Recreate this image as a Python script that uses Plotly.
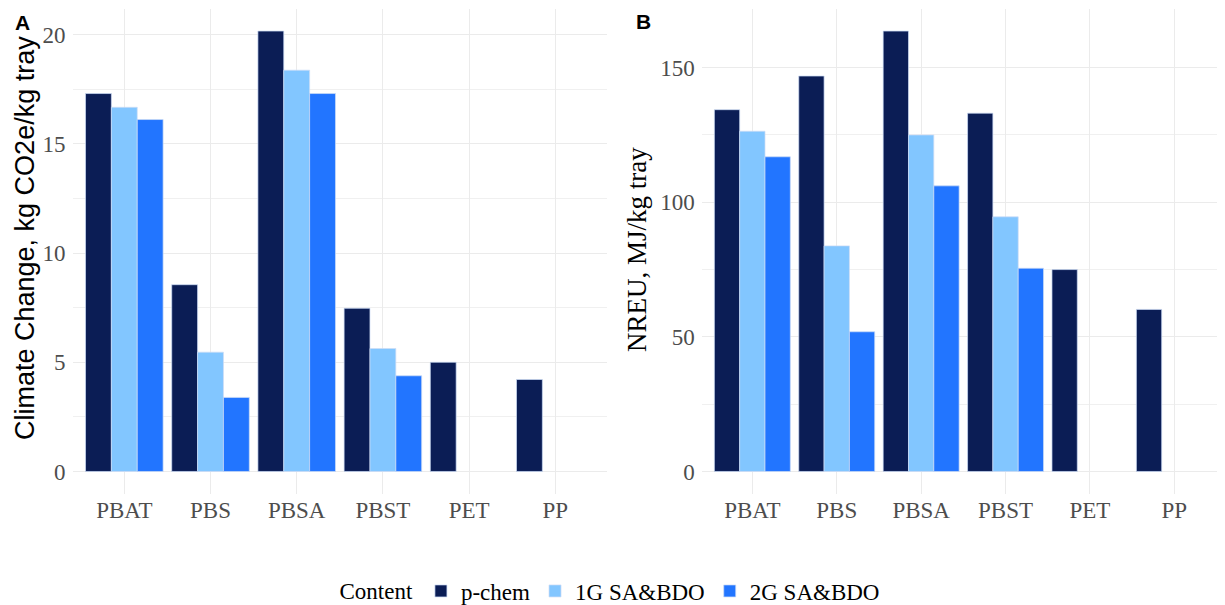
import plotly.graph_objects as go

categories = ["PBAT", "PBS", "PBSA", "PBST", "PET", "PP"]
series_names = ["p-chem", "1G SA&BDO", "2G SA&BDO"]
colors = ["#0b1d55", "#82c6ff", "#2275ff"]

cc_pchem = [17.30, 8.55, 20.16, 7.47, 5.00, 4.21]
cc_1g = [16.67, 5.46, 18.37, 5.63, None, None]
cc_2g = [16.11, 3.39, 17.30, 4.38, None, None]

nreu_pchem = [134.4, 146.9, 163.6, 133.1, 75.0, 60.2]
nreu_1g = [126.4, 83.8, 125.0, 94.6, None, None]
nreu_2g = [116.9, 51.9, 106.1, 75.5, None, None]

# page offset (body margin of the html page)
OFF = 8
W, H = 1225 - OFF, 605 - OFF


def px(xp):
    return (xp - OFF) / W


def py(yp):
    return 1 - (yp - OFF) / H


fig = go.Figure()
outline = dict(color="rgba(205,220,245,0.9)", width=0.8)
for name, col, vals in zip(series_names, colors, [cc_pchem, cc_1g, cc_2g]):
    fig.add_trace(go.Bar(x=categories, y=vals, name=name, marker_color=col, marker_line=outline,
                         legendgroup=name, showlegend=True, xaxis="x", yaxis="y"))
for name, col, vals in zip(series_names, colors, [nreu_pchem, nreu_1g, nreu_2g]):
    fig.add_trace(go.Bar(x=categories, y=vals, name=name, marker_color=col, marker_line=outline,
                         legendgroup=name, showlegend=False, xaxis="x2", yaxis="y2"))

serif = "Liberation Serif, Times New Roman, serif"
sans = "Liberation Sans, Arial, sans-serif"
tickfont = dict(family=serif, size=23, color="#4d4d4d")
grid = "#ebebeb"
minor_grid = "#f0f0f0"

ydom = [py(493.5), py(9)]
common_x = dict(type="category", range=[-0.6, 5.6], showgrid=True, gridcolor=grid, gridwidth=1,
                zeroline=False, showline=False, ticks="", ticklen=0, tickfont=tickfont,
                ticklabelstandoff=0)
common_y = dict(showgrid=True, gridcolor=grid, gridwidth=1, zeroline=False, ticks="", tick0=0,
                tickfont=tickfont, ticklabelstandoff=6)

fig.update_layout(
    width=W, height=H,
    margin=dict(l=0, r=0, t=0, b=0, autoexpand=False),
    paper_bgcolor="white", plot_bgcolor="white",
    barmode="group", bargap=0.1, bargroupgap=0,
    xaxis=dict(domain=[px(72.6), px(607)], anchor="y", **common_x),
    xaxis2=dict(domain=[px(701.7), 1.0], anchor="y2", **common_x),
    yaxis=dict(domain=ydom, anchor="x", range=[-1.008, 21.17], dtick=5,
               minor=dict(dtick=2.5, tick0=0, showgrid=True, gridcolor=minor_grid, gridwidth=0.6),
               **common_y),
    yaxis2=dict(domain=ydom, anchor="x2", range=[-8.18, 171.8], dtick=50,
                minor=dict(dtick=25, tick0=0, showgrid=True, gridcolor=minor_grid, gridwidth=0.6),
                **common_y),
    legend=dict(orientation="h", xref="container", yref="container",
                x=px(611), xanchor="center", y=py(591), yanchor="middle",
                font=dict(family=serif, size=23, color="black"),
                title=dict(text="Content", font=dict(family=serif, size=23, color="black"), side="left"),
                itemwidth=30, bgcolor="rgba(0,0,0,0)"),
    annotations=[
        dict(text="Climate Change, kg CO2e/kg tray", x=0, y=py(238), xref="paper", yref="paper",
             showarrow=False, textangle=-90, xanchor="left", yanchor="middle",
             font=dict(family=sans, size=27, color="black")),
        dict(text="NREU, MJ/kg tray", x=px(637), y=py(250), xref="paper", yref="paper",
             showarrow=False, textangle=-90, xanchor="center", yanchor="middle",
             font=dict(family=serif, size=27, color="black")),
        dict(text="<b>A</b>", x=px(22.3), y=py(22.5), xref="paper", yref="paper", showarrow=False,
             xanchor="center", yanchor="middle", font=dict(family=sans, size=21, color="black")),
        dict(text="<b>B</b>", x=px(643), y=py(21.7), xref="paper", yref="paper", showarrow=False,
             xanchor="center", yanchor="middle", font=dict(family=sans, size=21, color="black")),
    ],
)

fig.write_html("out.html")
